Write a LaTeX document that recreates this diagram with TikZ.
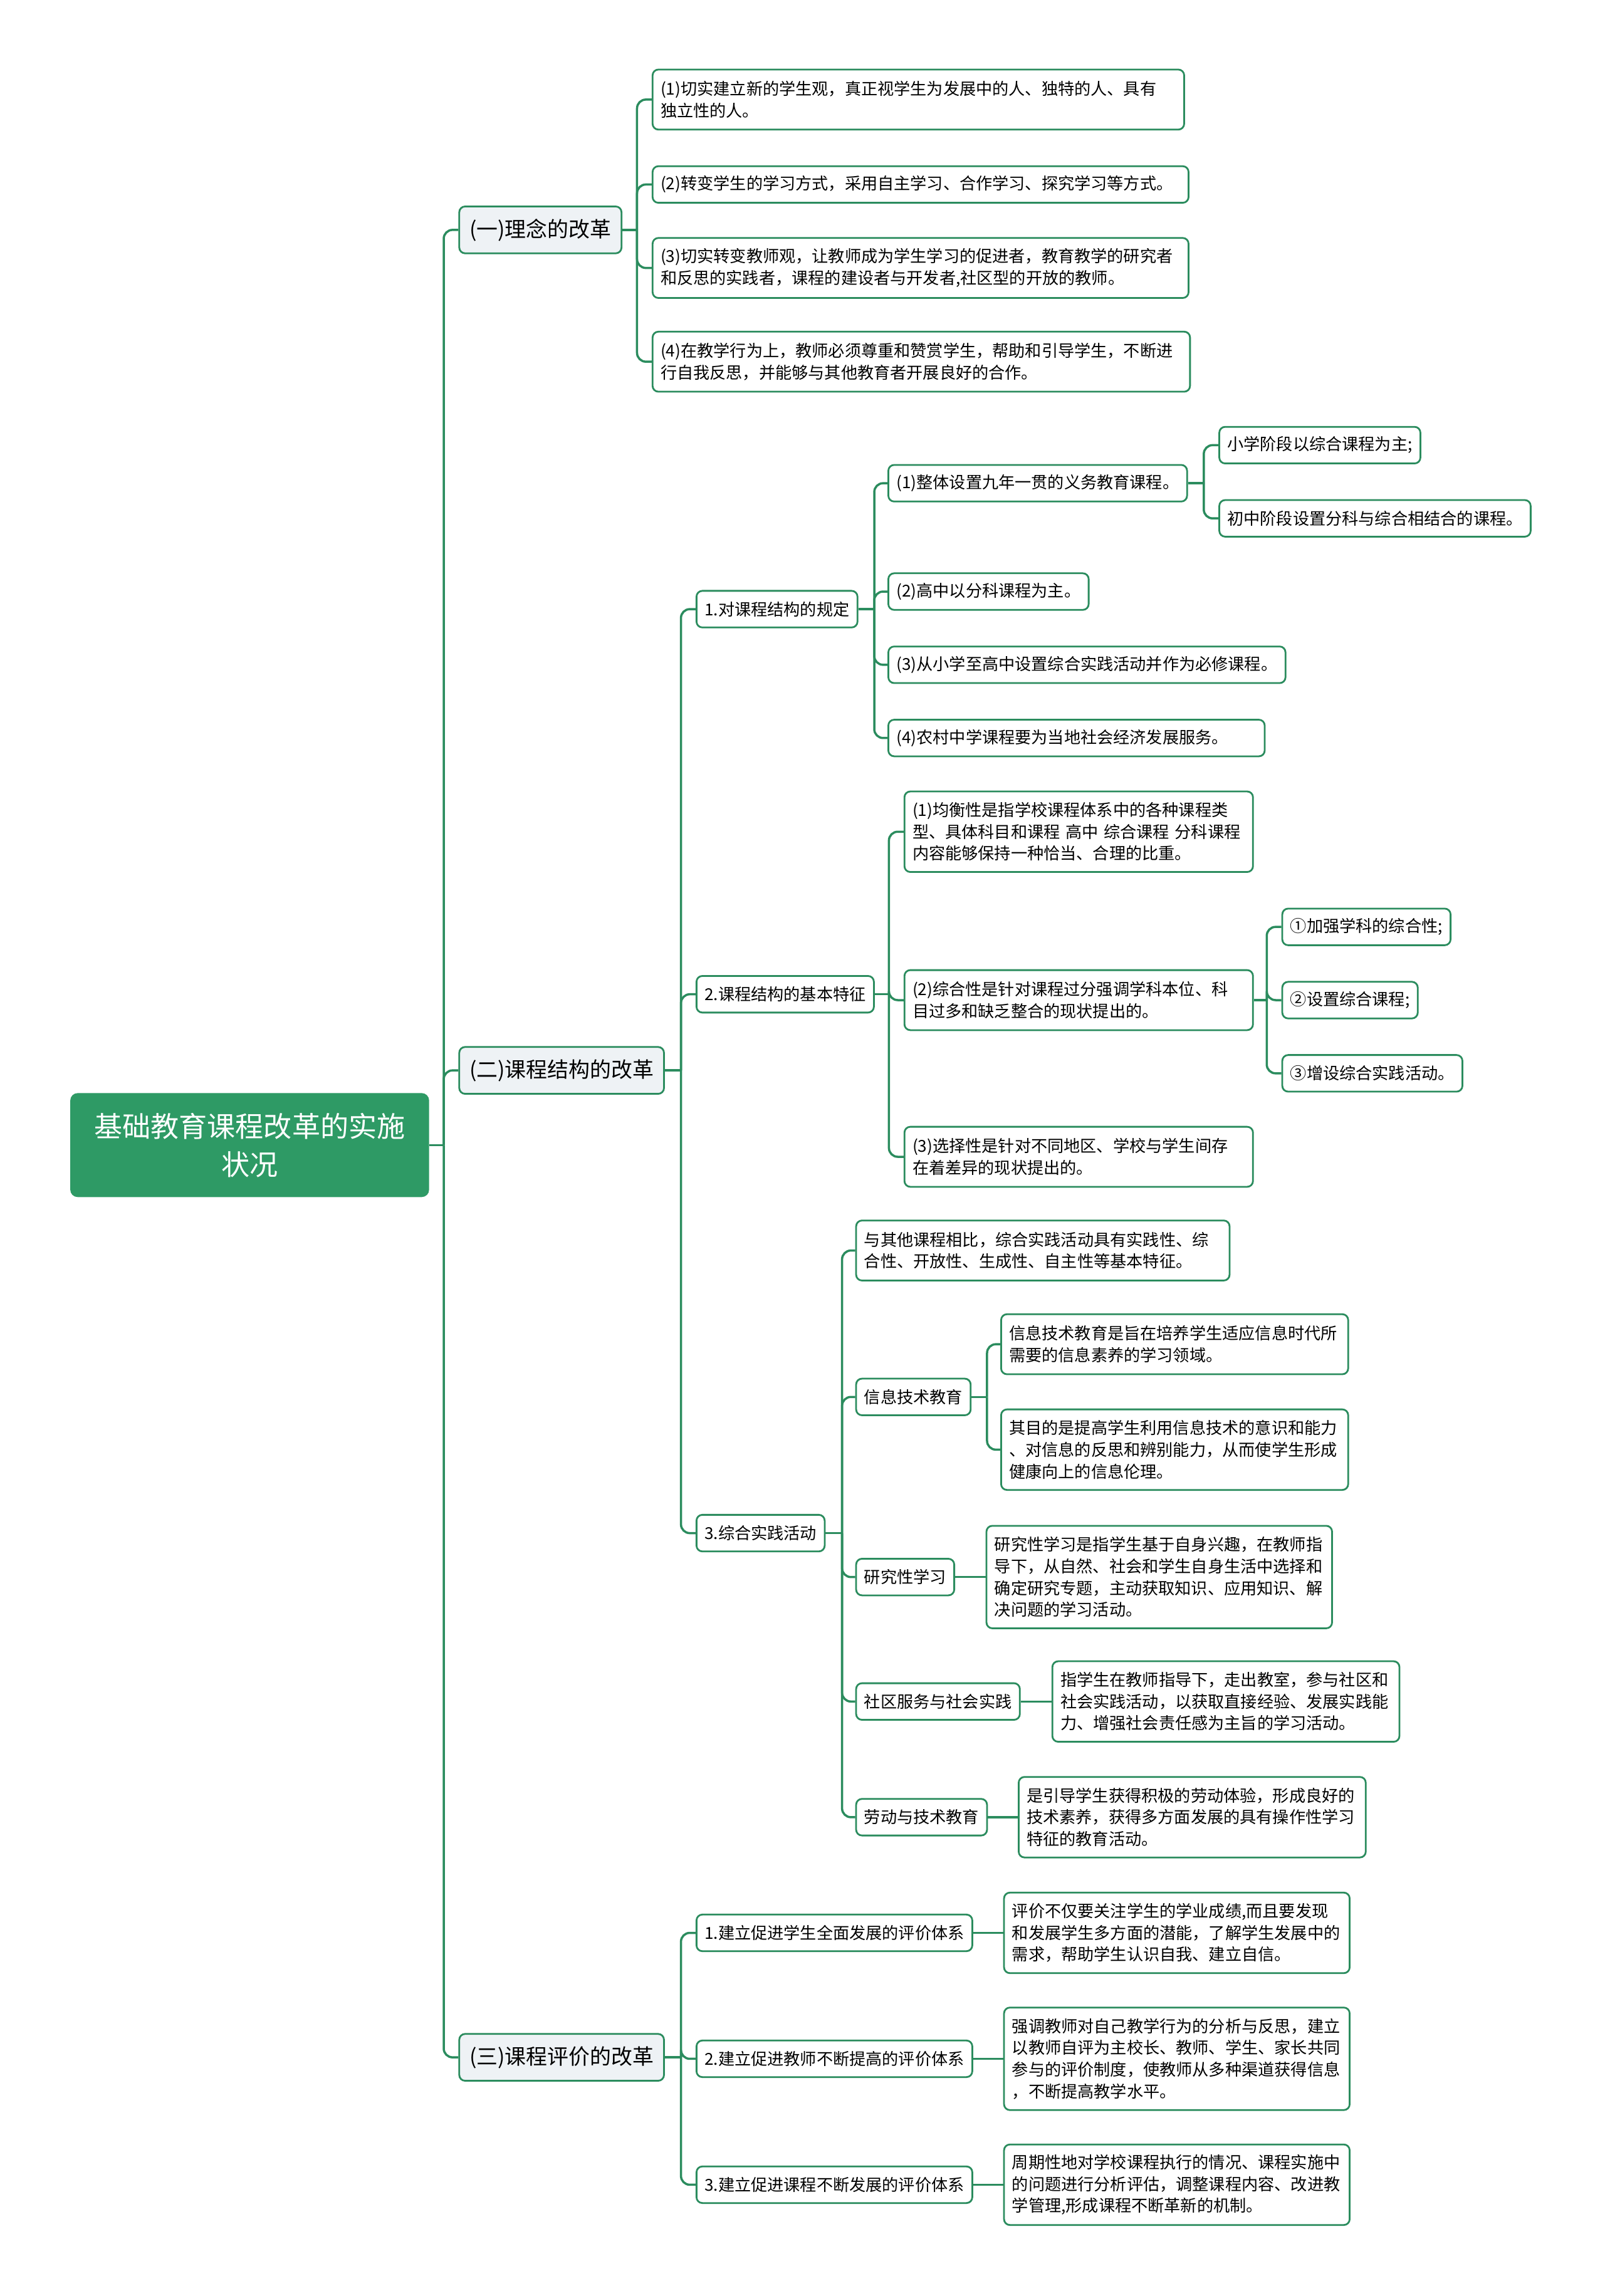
\documentclass[tikz,border=0pt]{standalone}
\usepackage{fontspec}
\setmainfont{Noto Sans CJK SC}
\usetikzlibrary{calc}
\definecolor{gline}{HTML}{2B8C5E}
\definecolor{groot}{HTML}{2E9A65}
\definecolor{gfill}{HTML}{EEF2F5}
\begin{document}
\begin{tikzpicture}[x=1pt,y=-1pt,
  conn/.style={draw=gline,line width=1.5pt,rounded corners=6pt},
  box/.style={draw=gline,line width=1.2pt,rounded corners=4pt,fill=white,anchor=west,align=left,
    inner xsep=5.5pt,inner ysep=0pt,minimum height=25pt,font=\fontsize{11.2}{14.8}\selectfont},
  hb/.style={minimum height=41pt},
  hc/.style={minimum height=55pt},
  hd/.style={minimum height=70pt},
  lone/.style={box,fill=gfill,font=\fontsize{14.5}{18}\selectfont,inner xsep=7pt,minimum height=32pt},
  rootbox/.style={fill=groot,draw=none,rounded corners=5pt,text=white,align=center,
    minimum width=245pt,minimum height=71pt,inner sep=0pt,font=\fontsize{19.3}{26}\selectfont}
]
\fill[white] (0,0) rectangle (1095.55,1568);
\useasboundingbox (0,0) rectangle (1095.55,1568);

% root
\node[rootbox] (root) at (170.5,782) {基础教育课程改革的实施\\状况};

% level 1
\node[lone] (L1) at (313,157) {(一)理念的改革};
\node[lone] (L2) at (313,731) {(二)课程结构的改革};
\node[lone] (L3) at (313,1405) {(三)课程评价的改革};

% (一)
\node[box,hb,text width=352pt] (A1) at (445,68) {(1)切实建立新的学生观，真正视学生为发展中的人、独特的人、具有\\独立性的人。};
\node[box,text width=355pt] (A2) at (445,126) {(2)转变学生的学习方式，采用自主学习、合作学习、探究学习等方式。};
\node[box,hb,text width=355pt] (A3) at (445,183) {(3)切实转变教师观，让教师成为学生学习的促进者，教育教学的研究者\\和反思的实践者，课程的建设者与开发者,社区型的开放的教师。};
\node[box,hb,text width=356pt] (A4) at (445,247) {(4)在教学行为上，教师必须尊重和赞赏学生，帮助和引导学生，不断进\\行自我反思，并能够与其他教育者开展良好的合作。};

% (二) 1
\node[box] (B1) at (475,416) {1.对课程结构的规定};
\node[box] (B11) at (606,330) {(1)整体设置九年一贯的义务教育课程。};
\node[box] (B111) at (832,304) {小学阶段以综合课程为主;};
\node[box] (B112) at (832,354) {初中阶段设置分科与综合相结合的课程。};
\node[box] (B12) at (606,404) {(2)高中以分科课程为主。};
\node[box] (B13) at (606,454) {(3)从小学至高中设置综合实践活动并作为必修课程。};
\node[box,text width=246pt] (B14) at (606,504) {(4)农村中学课程要为当地社会经济发展服务。};

% (二) 2
\node[box] (B2) at (475,679) {2.课程结构的基本特征};
\node[box,hc,text width=227pt] (B21) at (617,568) {(1)均衡性是指学校课程体系中的各种课程类\\型、具体科目和课程 高中 综合课程 分科课程\\内容能够保持一种恰当、合理的比重。};
\node[box,hb,text width=227pt] (B22) at (617,683) {(2)综合性是针对课程过分强调学科本位、科\\目过多和缺乏整合的现状提出的。};
\node[box] (B221) at (875,633) {①加强学科的综合性;};
\node[box] (B222) at (875,683) {②设置综合课程;};
\node[box] (B223) at (875,733) {③增设综合实践活动。};
\node[box,hb,text width=227pt] (B23) at (617,790) {(3)选择性是针对不同地区、学校与学生间存\\在着差异的现状提出的。};

% (二) 3
\node[box] (B3) at (475,1047) {3.综合实践活动};
\node[box,hb,text width=244pt] (B31) at (584,854) {与其他课程相比，综合实践活动具有实践性、综\\合性、开放性、生成性、自主性等基本特征。};
\node[box] (B32) at (584,954) {信息技术教育};
\node[box,hb,text width=226pt] (B321) at (683,918) {信息技术教育是旨在培养学生适应信息时代所\\需要的信息素养的学习领域。};
\node[box,hc,text width=226pt] (B322) at (683,990) {其目的是提高学生利用信息技术的意识和能力\\、对信息的反思和辨别能力，从而使学生形成\\健康向上的信息伦理。};
\node[box] (B33) at (584,1077) {研究性学习};
\node[box,hd,text width=225pt] (B331) at (673,1077) {研究性学习是指学生基于自身兴趣，在教师指\\导下，从自然、社会和学生自身生活中选择和\\确定研究专题，主动获取知识、应用知识、解\\决问题的学习活动。};
\node[box] (B34) at (584,1162) {社区服务与社会实践};
\node[box,hc,text width=226pt] (B341) at (718,1162) {指学生在教师指导下，走出教室，参与社区和\\社会实践活动，以获取直接经验、发展实践能\\力、增强社会责任感为主旨的学习活动。};
\node[box] (B35) at (584,1241) {劳动与技术教育};
\node[box,hc,text width=226pt] (B351) at (695,1241) {是引导学生获得积极的劳动体验，形成良好的\\技术素养，获得多方面发展的具有操作性学习\\特征的教育活动。};

% (三)
\node[box] (C1) at (475,1320) {1.建立促进学生全面发展的评价体系};
\node[box,hc,text width=225pt] (C11) at (685,1320) {评价不仅要关注学生的学业成绩,而且要发现\\和发展学生多方面的潜能，了解学生发展中的\\需求，帮助学生认识自我、建立自信。};
\node[box] (C2) at (475,1406) {2.建立促进教师不断提高的评价体系};
\node[box,hd,text width=225pt] (C21) at (685,1406) {强调教师对自己教学行为的分析与反思，建立\\以教师自评为主校长、教师、学生、家长共同\\参与的评价制度，使教师从多种渠道获得信息\\，不断提高教学水平。};
\node[box] (C3) at (475,1492) {3.建立促进课程不断发展的评价体系};
\node[box,hc,text width=225pt] (C31) at (685,1492) {周期性地对学校课程执行的情况、课程实施中\\的问题进行分析评估，调整课程内容、改进教\\学管理,形成课程不断革新的机制。};

% bracket coordinates
\coordinate (b0) at (303,782);
\coordinate (bA) at (435,157);
\coordinate (bB) at (465,731);
\coordinate (bB1) at (597,416);
\coordinate (bB11) at (822,330);
\coordinate (bB2) at (607,679);
\coordinate (bB22) at (865,683);
\coordinate (bB3) at (575,1047);
\coordinate (bB32) at (674,954);
\coordinate (bC) at (465,1405);

% connectors
\draw[conn] (root.east) -- (b0);
\foreach \c in {L1,L2,L3} \draw[conn] (b0) |- (\c.west);
\draw[conn] (L1.east) -- (bA);
\foreach \c in {A1,A2,A3,A4} \draw[conn] (bA) |- (\c.west);
\draw[conn] (L2.east) -- (bB);
\foreach \c in {B1,B2,B3} \draw[conn] (bB) |- (\c.west);
\draw[conn] (B1.east) -- (bB1);
\foreach \c in {B11,B12,B13,B14} \draw[conn] (bB1) |- (\c.west);
\draw[conn] (B11.east) -- (bB11);
\foreach \c in {B111,B112} \draw[conn] (bB11) |- (\c.west);
\draw[conn] (B2.east) -- (bB2);
\foreach \c in {B21,B22,B23} \draw[conn] (bB2) |- (\c.west);
\draw[conn] (B22.east) -- (bB22);
\foreach \c in {B221,B222,B223} \draw[conn] (bB22) |- (\c.west);
\draw[conn] (B3.east) -- (bB3);
\foreach \c in {B31,B32,B33,B34,B35} \draw[conn] (bB3) |- (\c.west);
\draw[conn] (B32.east) -- (bB32);
\foreach \c in {B321,B322} \draw[conn] (bB32) |- (\c.west);
\draw[conn] (B33.east) -- (B331.west);
\draw[conn] (B34.east) -- (B341.west);
\draw[conn] (B35.east) -- (B351.west);
\draw[conn] (L3.east) -- (bC);
\foreach \c in {C1,C2,C3} \draw[conn] (bC) |- (\c.west);
\draw[conn] (C1.east) -- (C11.west);
\draw[conn] (C2.east) -- (C21.west);
\draw[conn] (C3.east) -- (C31.west);
\end{tikzpicture}
\end{document}
